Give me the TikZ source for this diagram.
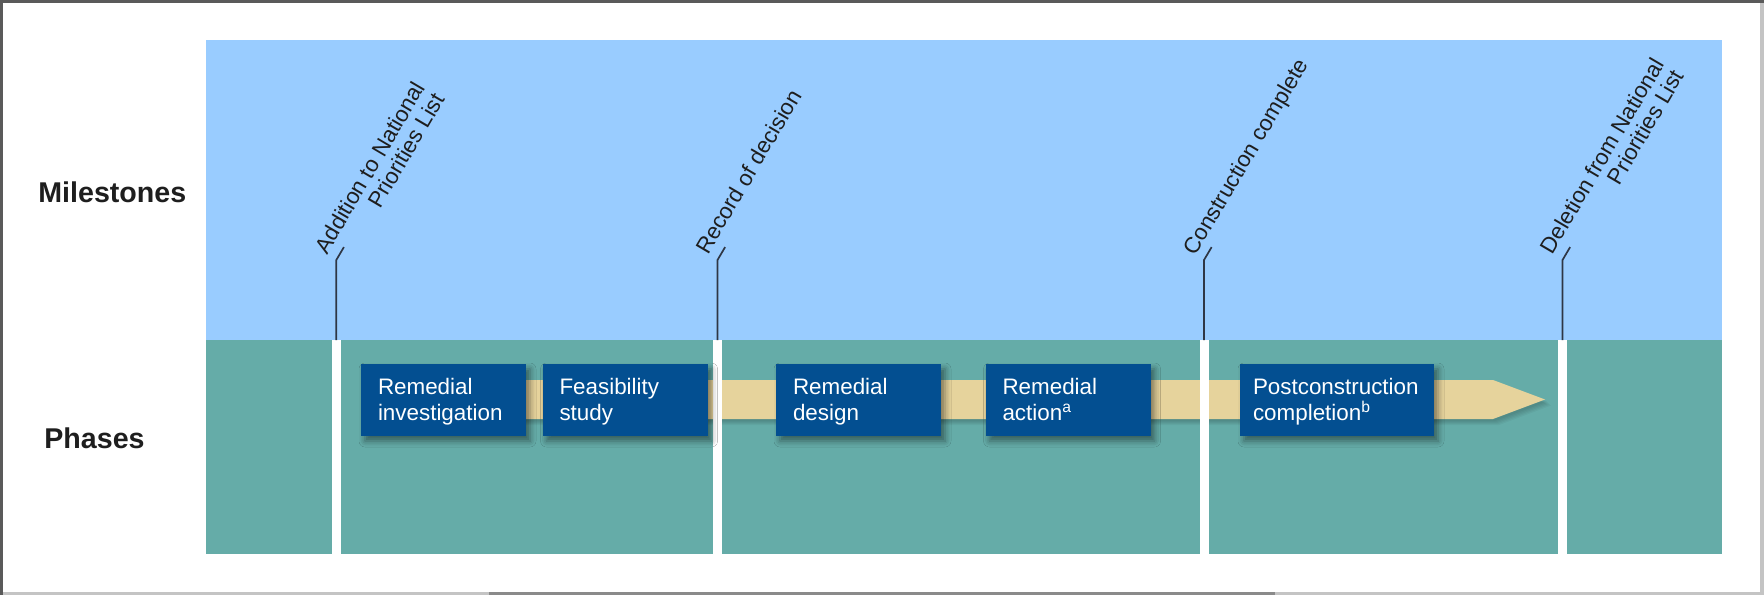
\documentclass[tikz,border=0pt]{standalone}
\usepackage{fontspec}
\setmainfont{Liberation Sans}
\usetikzlibrary{shadows.blur}
\definecolor{skyblue}{HTML}{99CCFF}
\definecolor{tealbg}{HTML}{65ACA8}
\definecolor{boxblue}{HTML}{034F91}
\definecolor{bandtan}{HTML}{E6D39C}
\definecolor{msline}{HTML}{2E3645}
\definecolor{labeltext}{HTML}{1E1E1E}
\definecolor{framedark}{HTML}{5A5A5A}
\definecolor{framelight}{HTML}{C4C4C4}
\definecolor{framemid}{HTML}{8A8A8A}
\newcommand{\boxfont}{\fontsize{11.2}{13}\selectfont}
\newcommand{\lblfont}{\fontsize{11.2}{10.9}\selectfont}
\newcommand{\hdrfont}{\fontsize{14.3}{17}\selectfont\bfseries}
\newcommand{\topst}{\rule{0pt}{10pt}}
\newcommand{\botst}{\rule[-2.4pt]{0pt}{2.4pt}}
\tikzset{
  phasebox/.style={fill=boxblue, text=white, font=\boxfont, align=left,
    text width=65.5pt, inner xsep=8.5pt, inner ysep=0pt, minimum height=36pt,
    blur shadow={shadow xshift=2pt, shadow yshift=-2.5pt, shadow blur radius=3pt, shadow opacity=45}},
  mslabel/.style={rotate=59.5, anchor=base west, inner sep=0pt, font=\lblfont, text=labeltext},
  hdr/.style={anchor=base west, inner sep=0pt, font=\hdrfont, text=labeltext},
  msstem/.style={draw=msline, line width=0.85pt},
  sepbar/.style={fill=white}
}
\begin{document}
\begin{tikzpicture}[x=0.5pt,y=-0.5pt]
\useasboundingbox (0,0) rectangle (1764,595);
% frame
\fill[white] (0,0) rectangle (1764,595);
\fill[framelight] (1760,0) rectangle (1764,595);
\fill[framelight] (0,592) rectangle (1764,595);
\fill[framemid] (489,592) rectangle (1275,595);
\fill[framedark] (0,0) rectangle (1764,2.5);
\fill[framedark] (0,0) rectangle (2.5,595);
% panels
\fill[skyblue] (206,40) rectangle (1722,340);
\fill[tealbg] (206,340) rectangle (1722,554);
% band with soft shadow
\foreach \s in {2,3,4,5,6}
  \fill[black,opacity=0.04,shift={(\s,\s)}] (400,380) -- (1493,380) -- (1545,399.5) -- (1493,419) -- (400,419) -- cycle;
\fill[bandtan] (400,380) -- (1493,380) -- (1545,399.5) -- (1493,419) -- (400,419) -- cycle;
% white separators
\fill[sepbar] (331.8,340) rectangle (340.8,554);
\fill[sepbar] (713,340) rectangle (722,554);
\fill[sepbar] (1199.5,340) rectangle (1208.5,554);
\fill[sepbar] (1558,340) rectangle (1567,554);
% milestone stems
\coordinate (b1) at (336.3,340); \coordinate (t1) at (336.3,260); \coordinate (k1) at (343.9,247.1);
\coordinate (b2) at (717.5,340); \coordinate (t2) at (717.5,260); \coordinate (k2) at (725.1,247.1);
\coordinate (b3) at (1204,340);  \coordinate (t3) at (1204,260);  \coordinate (k3) at (1211.6,247.1);
\coordinate (b4) at (1562.5,340); \coordinate (t4) at (1562.5,260); \coordinate (k4) at (1570.1,247.1);
\draw[msstem] (b1) -- (t1) -- (k1);
\draw[msstem] (b2) -- (t2) -- (k2);
\draw[msstem] (b3) -- (t3) -- (k3);
\draw[msstem] (b4) -- (t4) -- (k4);
% milestone labels
\node[mslabel] (l1) at (327,255.5) {\begin{tabular}[t]{@{}r@{}}Addition to National\\Priorities List\end{tabular}};
\node[mslabel] (l2) at (708,256) {Record of decision};
\node[mslabel] (l3) at (1195.5,257) {Construction complete};
\node[mslabel] (l4) at (1552.5,255.5) {\begin{tabular}[t]{@{}r@{}}Deletion from National\\Priorities List\end{tabular}};
% headings
\node[hdr] (mh) at (38,202) {Milestones};
\node[hdr] (ph) at (44,448) {Phases};
% phase boxes
\node[phasebox] (p1) at (443.5,400) {\topst Remedial\\investigation\botst};
\node[phasebox] (p2) at (625,400) {\topst Feasibility\\study\botst};
\node[phasebox] (p3) at (858.5,400) {\topst Remedial\\design\botst};
\node[phasebox] (p4) at (1068,400) {\topst Remedial\\action\textsuperscript{a}\botst};
\node[phasebox, text width=84pt, inner xsep=6.5pt] (p5) at (1337,400) {\topst Postconstruction\\completion\textsuperscript{b}\botst};
\end{tikzpicture}
\end{document}
